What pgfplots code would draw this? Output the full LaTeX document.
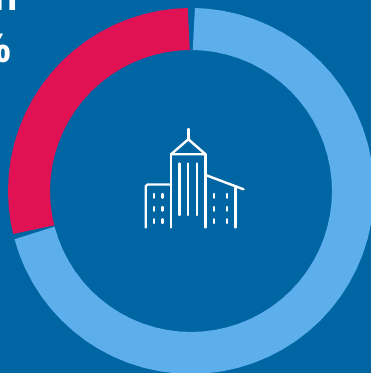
\documentclass[border=0pt]{standalone}
\usepackage{pgfplots}
\pgfplotsset{compat=1.18}
\usepackage{fontspec}
\setmainfont{Open Sans}
\definecolor{bg}{HTML}{0065A3}
\definecolor{ringblue}{HTML}{5CAFEA}
\definecolor{ringred}{HTML}{E01254}
\begin{document}
\begin{tikzpicture}
\path[use as bounding box] (0,0) rectangle (371bp,373bp);
\clip (0,0) rectangle (371bp,373bp);
\fill[bg] (0,0) rectangle (371bp,373bp);
\begin{axis}[at={(0,0)},anchor=south west,scale only axis,width=371bp,height=373bp,
  xmin=-191,xmax=180,ymin=-182,ymax=191,hide axis,clip=true]
\addplot[data cs=polar,no marks,color=ringblue,line width=42bp,line join=round] coordinates {
(89,162)(85,162)(80,162)(75,162)(70,162)(65,162)(60,162)(55,162)(50,162)(45,162)
(40,162)(35,162)(30,162)(25,162)(20,162)(15,162)(10,162)(5,162)(0,162)
(-5,162)(-10,162)(-15,162)(-20,162)(-25,162)(-30,162)(-35,162)(-40,162)(-45,162)
(-50,162)(-55,162)(-60,162)(-65,162)(-70,162)(-75,162)(-80,162)(-85,162)(-90,162)
(-95,162)(-100,162)(-105,162)(-110,162)(-115,162)(-120,162)(-125,162)(-130,162)
(-135,162)(-140,162)(-145,162)(-150,162)(-155,162)(-160,162)(-165,162)
};
\addplot[data cs=polar,no marks,color=ringred,line width=42bp,line join=round] coordinates {
(90.8,162)(95,162)(100,162)(105,162)(110,162)(115,162)(120,162)(125,162)(130,162)
(135,162)(140,162)(145,162)(150,162)(155,162)(160,162)(165,162)(170,162)(175,162)
(180,162)(185,162)(190,162)(193.8,162)
};
\end{axis}
\begin{scope}[shift={(0,373bp)},x=1bp,y=-1bp]
\node[anchor=base east,text=white,font=\bfseries\fontsize{38}{38}\selectfont,inner sep=0pt] at (18.5,11) {n};
\node[anchor=base east,text=white,font=\bfseries\fontsize{40}{40}\selectfont,inner sep=0pt] at (12,63) {\%};
\begin{scope}[draw=white,line width=2.4bp,line cap=round,line join=round]
\draw (188.3,129)--(188.3,139.3);
\draw (171,154.3)--(188.3,139.3)--(205.6,154.3)--cycle;
\draw (171,154.3)--(171,227.5);
\draw (205.6,154.3)--(205.6,227.5);
\foreach \x in {179.4,188,196.7}{\draw (\x,163.5)--(\x,215);}
\draw (171,184.5)--(147.5,184.5) to[out=180,in=90] (145.7,186.3)--(145.7,227.5);
\draw (205.6,175)--(243.5,189.3);
\draw (235.4,186.3)--(235.4,227.5);
\foreach \x in {154,162.3,214,226.7}{
  \draw (\x,194)--(\x,197.7);
  \draw (\x,207)--(\x,210.7);
  \draw (\x,219.3)--(\x,223);
}
\end{scope}
\end{scope}
\end{tikzpicture}
\end{document}
